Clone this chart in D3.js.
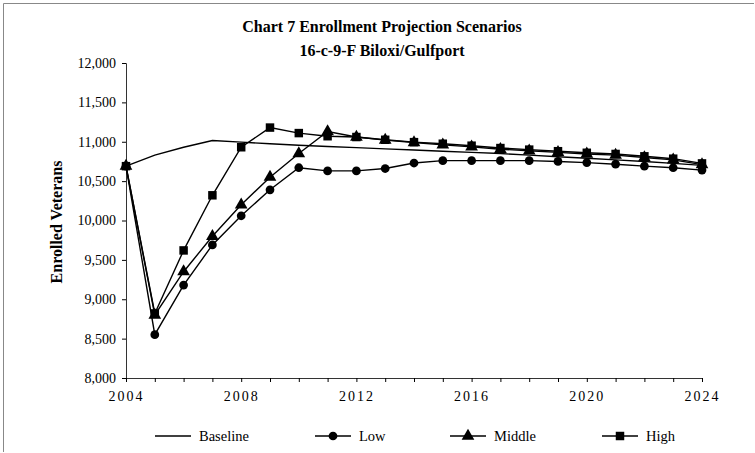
<html>
<head>
<meta charset="utf-8">
<style type="text/css">
  body {margin: 0; background: #fff;}
  text {font-family: "Liberation Serif", "Times New Roman", serif; fill: #000;}
</style>
</head>
<body>
<script src="https://d3js.org/d3.v7.min.js"></script>
<script>
var years = d3.range(2004, 2025);
var baseline = [10690, 10830, 10930, 11015, 10995, 10975, 10955, 10940, 10925, 10910, 10895, 10880, 10865, 10850, 10830, 10810, 10790, 10770, 10750, 10725, 10700];
var low = [10690, 8550, 9180, 9690, 10060, 10390, 10670, 10630, 10630, 10660, 10730, 10760, 10760, 10760, 10760, 10750, 10735, 10715, 10690, 10670, 10640];
var middle = [10690, 8800, 9350, 9800, 10200, 10550, 10850, 11130, 11060, 11020, 10990, 10960, 10935, 10905, 10885, 10865, 10845, 10830, 10800, 10770, 10710];
var high = [10690, 8820, 9620, 10320, 10930, 11180, 11110, 11070, 11060, 11025, 10995, 10975, 10950, 10920, 10900, 10880, 10860, 10845, 10815, 10785, 10725];
var xTicks = [2004, 2008, 2012, 2016, 2020, 2024];
var yTicks = [8000, 8500, 9000, 9500, 10000, 10500, 11000, 11500, 12000];

var series = [
  {name: "Baseline", values: baseline, marker: null},
  {name: "Low", values: low, marker: d3.symbolCircle},
  {name: "Middle", values: middle, marker: d3.symbolTriangle},
  {name: "High", values: high, marker: d3.symbolSquare}
];

var W = 755, H = 453;
var svg = d3.select("body").append("svg").attr("width", W).attr("height", H);

// frame
svg.append("path").attr("d", "M3.5,452 V3.5 H754")
  .attr("fill", "none").attr("stroke", "#888").attr("stroke-width", 1);

var x = d3.scaleLinear().domain([2004, 2024]).range([126, 702]);
var y = d3.scaleLinear().domain([8000, 12000]).range([378, 63]);

// titles
svg.append("text").attr("x", 382).attr("y", 32).attr("text-anchor", "middle")
  .attr("font-size", "16px").attr("font-weight", "bold")
  .text("Chart 7 Enrollment Projection Scenarios");
svg.append("text").attr("x", 382).attr("y", 56).attr("text-anchor", "middle")
  .attr("font-size", "16px").attr("font-weight", "bold")
  .text("16-c-9-F Biloxi/Gulfport");

// axes
var yAxis = d3.axisLeft(y).tickValues(yTicks).tickSize(4).tickPadding(6)
  .tickFormat(d3.format(","));
var gy = svg.append("g").attr("transform", "translate(126,0)").call(yAxis);
gy.attr("font-size", null).attr("font-family", null);
gy.select(".domain").attr("stroke", "#333");
gy.selectAll("text").style("font-size", "14px");

var xAxis = d3.axisBottom(x).tickValues(years).tickSize(4).tickPadding(9)
  .tickFormat(function(d){ return xTicks.indexOf(d) >= 0 ? d : ""; });
var gx = svg.append("g").attr("transform", "translate(0,378)").call(xAxis);
gx.attr("font-size", null).attr("font-family", null);
gx.select(".domain").attr("stroke", "#333");
gx.selectAll("text").style("font-size", "14px").style("letter-spacing", "2px");

svg.append("text").attr("transform", "translate(62,222) rotate(-90)")
  .attr("text-anchor", "middle").style("font-size", "16px").attr("font-weight", "bold")
  .text("Enrolled Veterans");

var line = d3.line().x(function(d, i){ return x(years[i]); }).y(function(d){ return y(d); });

function markerSize(m) {
  if (m === d3.symbolCircle) return 60;
  if (m === d3.symbolTriangle) return 70;
  return 72;
}

series.forEach(function(s){
  svg.append("path").datum(s.values).attr("d", line)
    .attr("fill", "none").attr("stroke", "#000").attr("stroke-width", 1.4);
  if (s.marker) {
    svg.selectAll(null).data(s.values).enter().append("path")
      .attr("d", d3.symbol().type(s.marker).size(markerSize(s.marker)))
      .attr("transform", function(d, i){ return "translate(" + x(years[i]) + "," + y(d) + ")"; })
      .attr("fill", "#000");
  }
});

// legend
var legendX = [155, 315, 450, 602];
var lg = svg.selectAll(".lg").data(series).enter().append("g")
  .attr("transform", function(d, i){ return "translate(" + legendX[i] + ",436)"; });
lg.append("line").attr("x1", 0).attr("x2", 36).attr("y1", 0).attr("y2", 0)
  .attr("stroke", "#000").attr("stroke-width", 1.4);
lg.filter(function(d){ return d.marker; }).append("path")
  .attr("d", function(d){ return d3.symbol().type(d.marker).size(markerSize(d.marker))(); })
  .attr("transform", "translate(18,0)");
lg.append("text").attr("x", 44).attr("y", 5).style("font-size", "14.5px")
  .text(function(d){ return d.name; });
</script>
</body>
</html>
